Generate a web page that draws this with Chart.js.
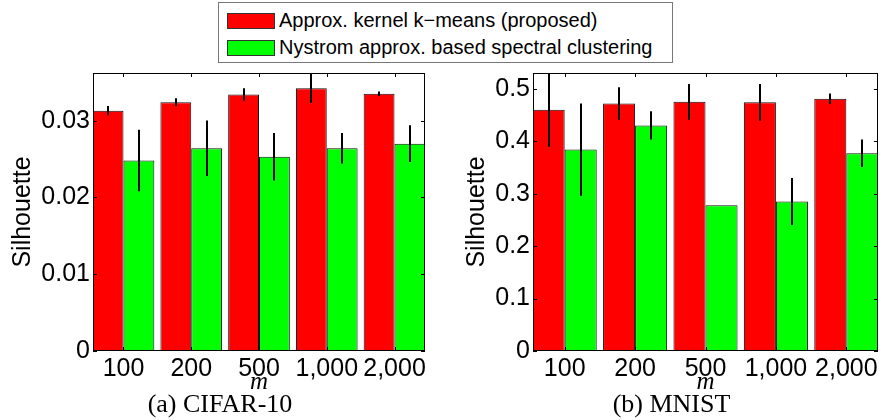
<!DOCTYPE html>
<html>
<head>
<meta charset="utf-8">
<script src="https://cdn.jsdelivr.net/npm/chart.js@4.4.0/dist/chart.umd.min.js"></script>
<style>
  body { margin: 0; background: #fff; }
  #wrap { position: relative; width: 881px; height: 420px; overflow: hidden; }
  #cifarChart { position: absolute; left: 0; top: 0; }
  #mnistChart { position: absolute; left: 460px; top: 0; }
  #legend {
    position: absolute; left: 218px; top: 2px; width: 453px; height: 59px;
    border: 1px solid #777; background: #fff; z-index: 2;
    font-family: "Liberation Sans", Arial, sans-serif; font-size: 20px; color: #000;
  }
  .legend-row { position: absolute; left: 8px; display: flex; align-items: center; white-space: nowrap; }
  .swatch { width: 46px; height: 14px; border: 1px solid #333; margin-right: 4px; }
</style>
</head>
<body>
<div id="wrap">
  <div id="legend">
    <div class="legend-row" style="top:6px"><span class="swatch" style="background:#ff0000"></span>Approx. kernel k−means (proposed)</div>
    <div class="legend-row" style="top:33px"><span class="swatch" style="background:#00ff00"></span>Nystrom approx. based spectral clustering</div>
  </div>
  <canvas id="cifarChart" width="440" height="420"></canvas>
  <canvas id="mnistChart" width="421" height="420"></canvas>
</div>
<script>
const categories = ["100", "200", "500", "1,000", "2,000"];

// CIFAR-10
const cifarKernel = [0.0313, 0.0324, 0.0334, 0.0342, 0.0335];
const cifarKernelErr = [0.0006, 0.0005, 0.0008, 0.0019, 0.0003];
const cifarNystrom = [0.0248, 0.0264, 0.0253, 0.0264, 0.0270];
const cifarNystromErr = [0.0040, 0.0036, 0.0031, 0.0020, 0.0024];
const cifarTicks = [0, 0.01, 0.02, 0.03];

// MNIST
const mnistKernel = [0.460, 0.472, 0.475, 0.474, 0.481];
const mnistKernelErr = [0.071, 0.031, 0.034, 0.035, 0.010];
const mnistNystrom = [0.384, 0.430, 0.278, 0.285, 0.377];
const mnistNystromErr = [0.088, 0.027, 0, 0.045, 0.026];
const mnistTicks = [0, 0.1, 0.2, 0.3, 0.4, 0.5];

const sans = "'Liberation Sans', Arial, sans-serif";
const serif = "'Liberation Serif', 'Times New Roman', serif";

// box, inward ticks and error bars (matlab look)
const boxAndErrors = {
  id: "boxAndErrors",
  afterDatasetsDraw(chart) {
    const { ctx, chartArea: a, scales: { x, y } } = chart;

    ctx.save();
    ctx.beginPath();
    ctx.rect(a.left, a.top, a.right - a.left, a.bottom - a.top);
    ctx.clip();
    ctx.strokeStyle = "#000";
    ctx.lineWidth = 2;
    chart.data.datasets.forEach((ds, d) => {
      const meta = chart.getDatasetMeta(d);
      ds.errors.forEach((e, i) => {
        if (!e) return;
        const v = ds.data[i].y;
        const px = Math.round(meta.data[i].x);
        ctx.beginPath();
        ctx.moveTo(px, y.getPixelForValue(v + e));
        ctx.lineTo(px, y.getPixelForValue(v - e));
        ctx.stroke();
      });
    });
    ctx.restore();

    ctx.save();
    ctx.strokeStyle = "#000";
    ctx.lineWidth = 1;
    ctx.strokeRect(a.left + 0.5, a.top + 0.5, a.right - a.left - 1, a.bottom - a.top - 1);
    const tl = 4;
    ctx.beginPath();
    x.ticks.forEach((t) => {
      const px = Math.round(x.getPixelForValue(t.value)) + 0.5;
      ctx.moveTo(px, a.top); ctx.lineTo(px, a.top + tl);
      ctx.moveTo(px, a.bottom); ctx.lineTo(px, a.bottom - tl);
    });
    y.ticks.forEach((t) => {
      const py = Math.round(y.getPixelForValue(t.value)) + 0.5;
      ctx.moveTo(a.left, py); ctx.lineTo(a.left + tl, py);
      ctx.moveTo(a.right, py); ctx.lineTo(a.right - tl, py);
    });
    ctx.stroke();
    ctx.restore();
  }
};

function makeChart(id, kernel, kernelErr, nystrom, nystromErr, yMax, yTicks, caption, pad, yWidth, titlePad) {
  const ctx = document.getElementById(id);
  return new Chart(ctx, {
    type: "bar",
    data: {
      datasets: [
        {
          label: "Approx. kernel k-means (proposed)",
          data: kernel.map((v, i) => ({ x: i + 1, y: v })),
          errors: kernelErr,
          backgroundColor: "#ff0000",
          borderColor: "#111",
          borderWidth: 1,
          borderSkipped: false,
          categoryPercentage: 0.91,
          barPercentage: 1.0,
        },
        {
          label: "Nystrom approx. based spectral clustering",
          data: nystrom.map((v, i) => ({ x: i + 1, y: v })),
          errors: nystromErr,
          backgroundColor: "#00ff00",
          borderColor: "#111",
          borderWidth: 1,
          borderSkipped: false,
          categoryPercentage: 0.91,
          barPercentage: 1.0,
        },
      ],
    },
    options: {
      responsive: false,
      animation: false,
      layout: { padding: pad },
      plugins: {
        legend: { display: false },
        tooltip: { enabled: false },
        title: {
          display: true,
          position: "bottom",
          text: caption,
          color: "#000",
          font: { family: serif, size: 26, weight: "normal", lineHeight: 1 },
          padding: { top: 0, bottom: 2 },
        },
      },
      scales: {
        x: {
          type: "linear",
          min: 0.55,
          max: 5.45,
          offset: false,
          grid: { display: false, drawTicks: false },
          border: { display: false },
          afterBuildTicks: (s) => {
            s.ticks = categories.map((c, i) => ({ value: i + 1 }));
          },
          afterFit: (s) => { s.height = 41; },
          ticks: {
            autoSkip: false,
            maxRotation: 0,
            padding: 3,
            color: "#000",
            font: { family: sans, size: 25 },
            callback: (v) => categories[v - 1],
          },
          title: {
            display: true,
            text: "m",
            color: "#000",
            font: { family: serif, style: "italic", size: 25, lineHeight: 0.8 },
            padding: 0,
          },
        },
        y: {
          min: 0,
          max: yMax,
          grid: { display: false, drawTicks: false },
          border: { display: false },
          afterBuildTicks: (s) => {
            s.ticks = yTicks.map((v) => ({ value: v }));
          },
          afterFit: (s) => { s.width = yWidth; },
          ticks: {
            padding: 3,
            color: "#000",
            font: { family: sans, size: 25 },
            callback: (v) => String(v),
          },
          title: {
            display: true,
            text: "Silhouette",
            color: "#000",
            font: { family: sans, size: 25, lineHeight: 0.6 },
            padding: { top: titlePad, bottom: 0 },
          },
        },
      },
    },
    plugins: [boxAndErrors],
  });
}

makeChart("cifarChart", cifarKernel, cifarKernelErr, cifarNystrom, cifarNystromErr,
  0.0362, cifarTicks, "(a) CIFAR-10", { top: 73, right: 15, left: 15, bottom: 0 }, 78, 1);
makeChart("mnistChart", mnistKernel, mnistKernelErr, mnistNystrom, mnistNystromErr,
  0.53, mnistTicks, "(b) MNIST", { top: 73, right: 3, left: 5, bottom: 0 }, 68, 5);
</script>
</body>
</html>
